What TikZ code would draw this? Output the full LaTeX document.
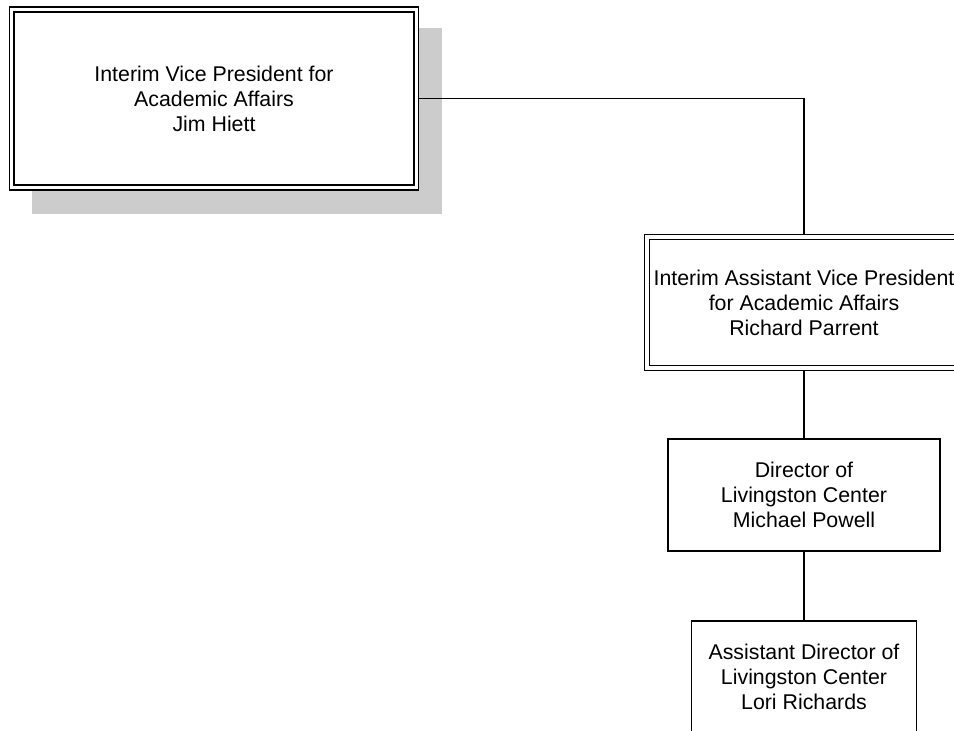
\documentclass[tikz,border=0pt]{standalone}
\usepackage{fontspec}
\setmainfont{Liberation Sans}
\usetikzlibrary{positioning,backgrounds}
\definecolor{shadowgray}{RGB}{204,204,204}

\tikzset{
    orgbox/.style={draw, line width=1.35pt, fill=white, align=center, inner sep=0pt,
        font=\fontsize{16}{18.75}\selectfont},
    dblbox/.style={orgbox, line width=1.05pt, double=white, double distance=2.5pt, outer sep=2.3pt},
    link/.style={line width=1.35pt}
}

\begin{document}
\begin{tikzpicture}[x=0.75pt, y=-0.75pt]
    \useasboundingbox (0,0) rectangle (954,731);

    % Boxes
    \node [dblbox, minimum width=303.4pt, minimum height=133.5pt] (vp) at (214,98.5)
        {Interim Vice President for\\Academic Affairs\\Jim Hiett};
    \node [dblbox, minimum width=235.5pt, minimum height=98.25pt] (avp) at (804,302.5)
        {Interim Assistant Vice President\\for Academic Affairs\\Richard Parrent};
    \node [orgbox, minimum width=204pt, minimum height=84pt] (dir) at (804,495)
        {Director of\\Livingston Center\\Michael Powell};
    \node [orgbox, minimum width=168.75pt, minimum height=84pt] (adir) at (804,677)
        {Assistant Director of\\Livingston Center\\Lori Richards};

    % Shadow
    \begin{scope}[on background layer]
        \fill [shadowgray] ([shift={(23,22)}]vp.north west) rectangle ([shift={(23,23)}]vp.south east);
    \end{scope}

    % Lines
    \draw [link] (vp.east) -| (avp.north);
    \draw [link] (avp.south) -- (dir.north);
    \draw [link] (dir.south) -- (adir.north);
\end{tikzpicture}
\end{document}
